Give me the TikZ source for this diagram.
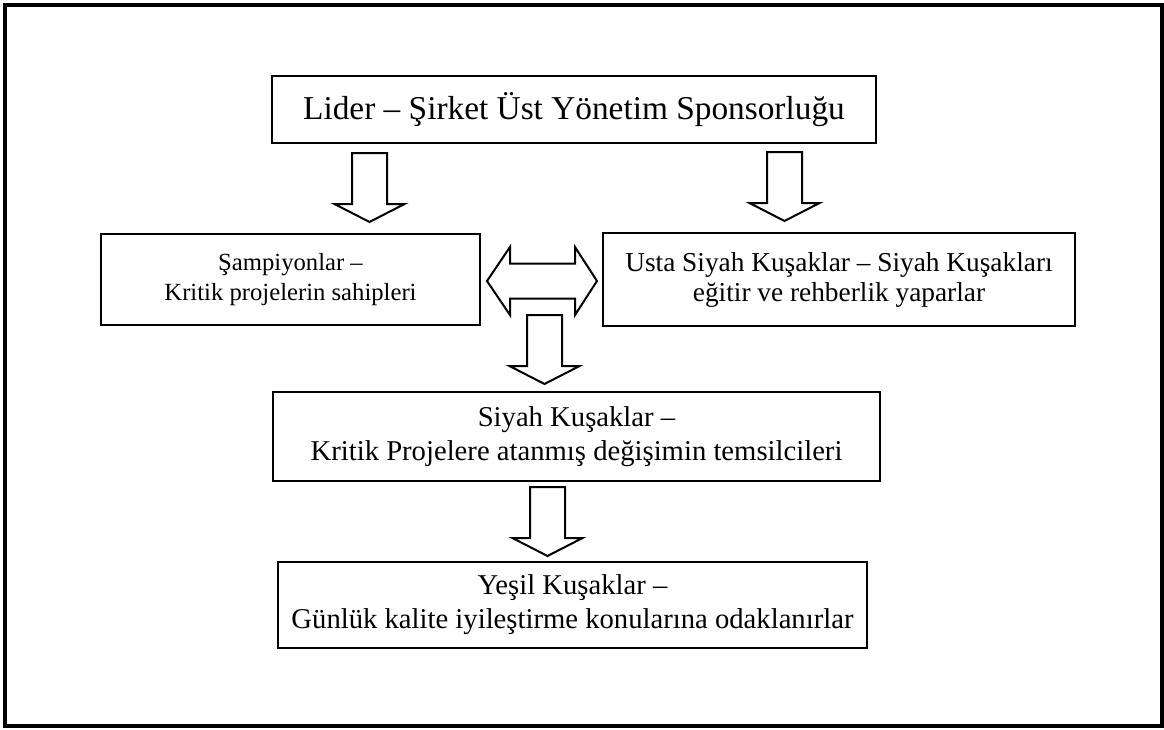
\documentclass[tikz,border=0pt]{standalone}
\usepackage{fontspec}
\setmainfont{Liberation Serif}
\usetikzlibrary{calc}

\tikzset{every picture/.style={line width=0.75pt}}
\tikzset{
	kutu/.style={draw, line width=1.5pt, inner sep=0pt, align=center},
	fatdown/.style={line width=1.5pt, to path={
		($(\tikztostart)+(-17.5,0)$) -- ($(\tikztostart)+(17.5,0)$) -- ($(\tikztotarget)+(17.5,-18)$) -- ($(\tikztotarget)+(35,-18)$) -- (\tikztotarget) -- ($(\tikztotarget)+(-35,-18)$) -- ($(\tikztotarget)+(-17.5,-18)$) -- cycle}},
	fatboth/.style={line width=1.5pt, to path={
		(\tikztostart) -- ($(\tikztostart)+(23,-34)$) -- ($(\tikztostart)+(23,-17.5)$) -- ($(\tikztotarget)+(-22,-17.5)$) -- ($(\tikztotarget)+(-22,-34)$) -- (\tikztotarget) -- ($(\tikztotarget)+(-22,34)$) -- ($(\tikztotarget)+(-22,17.5)$) -- ($(\tikztostart)+(23,17.5)$) -- ($(\tikztostart)+(23,34)$) -- cycle}}
}

\begin{document}
\begin{tikzpicture}[x=0.75pt,y=0.75pt,yscale=-1,xscale=1]
	\useasboundingbox (0,0) rectangle (1164,729);

	%Shape: Rectangle [frame]
	\draw [line width=3pt] (5,5) rectangle (1162,726);

	%Shape: Rectangle [lider]
	\node [kutu, minimum width=453pt, minimum height=50.25pt, font=\fontsize{25}{29}\selectfont] (lider) at (574,109.5) {Lider – Şirket Üst Yönetim Sponsorluğu};
	%Shape: Rectangle [sampiyon]
	\node [kutu, minimum width=284.25pt, minimum height=68.25pt, font=\fontsize{18.5}{22.5}\selectfont] (sampiyon) at (290.5,279.5) {Şampiyonlar –\\Kritik projelerin sahipleri};
	%Shape: Rectangle [usta]
	\node [kutu, minimum width=354pt, minimum height=69.75pt, font=\fontsize{20.5}{22.5}\selectfont] (usta) at (839,279.5) {Usta Siyah Kuşaklar – Siyah Kuşakları\\eğitir ve rehberlik yaparlar};
	%Shape: Rectangle [siyah]
	\node [kutu, minimum width=455.25pt, minimum height=66.75pt, font=\fontsize{21.5}{25.5}\selectfont] (siyah) at (576.5,436.5) {Siyah Kuşaklar –\\Kritik Projelere atanmış değişimin temsilcileri};
	%Shape: Rectangle [yesil]
	\node [kutu, minimum width=441.75pt, minimum height=64.5pt, font=\fontsize{21.5}{25.5}\selectfont] (yesil) at (572.5,605) {Yeşil Kuşaklar –\\Günlük kalite iyileştirme konularına odaklanırlar};

	%Right Arrow ends
	\coordinate (ok1a) at (369.5,153);
	\coordinate (ok1b) at (369.5,222);
	\coordinate (ok2a) at (784.5,152);
	\coordinate (ok2b) at (784.5,221);
	\coordinate (ok3a) at (544.5,315);
	\coordinate (ok3b) at (544.5,384);
	\coordinate (ok4a) at (547.5,487);
	\coordinate (ok4b) at (547.5,556);
	\coordinate (ciftA) at (487,281);
	\coordinate (ciftB) at (597,281);

	%Block Arrows
	\draw [fatdown] (ok1a) to (ok1b);
	\draw [fatdown] (ok2a) to (ok2b);
	\draw [fatdown] (ok3a) to (ok3b);
	\draw [fatdown] (ok4a) to (ok4b);
	\draw [fatboth] (ciftA) to (ciftB);

\end{tikzpicture}
\end{document}
